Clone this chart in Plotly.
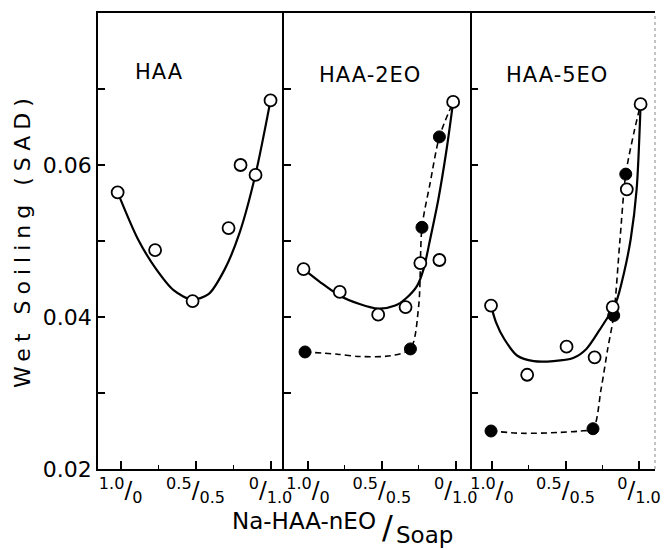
import plotly.graph_objects as go

# ---------------- data ----------------
# x = soap fraction in the Na-HAA-nEO / Soap mixture (0 -> 1.0/0, 1 -> 0/1.0)
haa_x = [-0.02, 0.23, 0.48, 0.72, 0.80, 0.90, 1.0]
haa_y = [0.0564, 0.0488, 0.0421, 0.0517, 0.0600, 0.0587, 0.0685]
haa_fit_x = [-0.02, 0.114, 0.230, 0.355, 0.476, 0.586, 0.695, 0.794, 0.899, 1.0]
haa_fit_y = [0.0564, 0.0503, 0.0465, 0.0435, 0.0423, 0.0430, 0.0463, 0.0511, 0.0587, 0.0685]

eo2_open_x = [-0.03, 0.215, 0.475, 0.66, 0.76, 0.889, 0.982]
eo2_open_y = [0.0463, 0.0433, 0.0403, 0.0413, 0.0471, 0.0475, 0.0683]
eo2_fill_x = [-0.02, 0.693, 0.771, 0.889]
eo2_fill_y = [0.0354, 0.0358, 0.0518, 0.0637]
eo2_solid_x = [-0.03, 0.082, 0.215, 0.349, 0.475, 0.59, 0.66, 0.738, 0.782, 0.827, 0.882, 0.938, 0.982]
eo2_solid_y = [0.0463, 0.0446, 0.0428, 0.0417, 0.0411, 0.0415, 0.0424, 0.0441, 0.0463, 0.0503, 0.0555, 0.0621, 0.0683]
eo2_dash_x = [-0.02, 0.2, 0.35, 0.56, 0.693, 0.749, 0.771, 0.827, 0.889, 0.982]
eo2_dash_y = [0.0354, 0.0351, 0.0348, 0.0349, 0.0358, 0.0415, 0.0518, 0.0577, 0.0637, 0.0683]

eo5_open_x = [-0.007, 0.239, 0.507, 0.698, 0.821, 0.917, 1.011]
eo5_open_y = [0.0415, 0.0324, 0.0361, 0.0347, 0.0413, 0.0568, 0.0680]
eo5_fill_x = [-0.007, 0.687, 0.828, 0.910]
eo5_fill_y = [0.0250, 0.0253, 0.0402, 0.0588]
eo5_solid_x = [-0.007, 0.027, 0.083, 0.172, 0.284, 0.418, 0.552, 0.642, 0.732, 0.843, 0.899, 0.944, 0.984, 1.011]
eo5_solid_y = [0.0415, 0.0393, 0.0371, 0.0349, 0.0342, 0.0342, 0.0346, 0.0358, 0.0383, 0.0419, 0.0459, 0.0503, 0.0568, 0.0680]
eo5_dash_x = [-0.007, 0.2, 0.45, 0.6, 0.687, 0.742, 0.787, 0.828, 0.870, 0.910, 0.966, 1.011]
eo5_dash_y = [0.0250, 0.0247, 0.0248, 0.0250, 0.0253, 0.0305, 0.0358, 0.0402, 0.0500, 0.0588, 0.0643, 0.0680]

panel_names = ["HAA", "HAA-2EO", "HAA-5EO"]
x_major_vals = [0, 0.5, 1.0]
x_major_text = ["<sup>1.0</sup>/<sub>0</sub>", "<sup>0.5</sup>/<sub>0.5</sub>", "<sup>0</sup>/<sub>1.0</sub>"]
x_minor_vals = [0.25, 0.75]
y_tick_vals = [0.02, 0.03, 0.04, 0.05, 0.06, 0.07]
y_tick_text = ["0.02", "", "0.04", "", "0.06", ""]

# ---------------- figure ----------------
FONT = "DejaVu Sans"
fig = go.Figure()

def add_panel(k, open_x, open_y, solid_x, solid_y, fill_x=None, fill_y=None, dash_x=None, dash_y=None):
    xa = "x" if k == 1 else f"x{k}"
    ya = "y" if k == 1 else f"y{k}"
    if dash_x is not None:
        fig.add_trace(go.Scatter(x=dash_x, y=dash_y, mode="lines", xaxis=xa, yaxis=ya,
                                 line=dict(color="black", width=1.6, dash="6px,4px", shape="spline", smoothing=0.8),
                                 showlegend=False, hoverinfo="skip", cliponaxis=False))
    fig.add_trace(go.Scatter(x=solid_x, y=solid_y, mode="lines", xaxis=xa, yaxis=ya,
                             line=dict(color="black", width=2.2, shape="spline", smoothing=0.8),
                             showlegend=False, hoverinfo="skip", cliponaxis=False))
    if fill_x is not None:
        fig.add_trace(go.Scatter(x=fill_x, y=fill_y, mode="markers", xaxis=xa, yaxis=ya,
                                 marker=dict(symbol="circle", size=12, color="black",
                                             line=dict(color="black", width=1)),
                                 showlegend=False, cliponaxis=False))
    fig.add_trace(go.Scatter(x=open_x, y=open_y, mode="markers", xaxis=xa, yaxis=ya,
                             marker=dict(symbol="circle", size=12, color="white",
                                         line=dict(color="black", width=1.8)),
                             showlegend=False, cliponaxis=False))

add_panel(1, haa_x, haa_y, haa_fit_x, haa_fit_y)
add_panel(2, eo2_open_x, eo2_open_y, eo2_solid_x, eo2_solid_y, eo2_fill_x, eo2_fill_y, eo2_dash_x, eo2_dash_y)
add_panel(3, eo5_open_x, eo5_open_y, eo5_solid_x, eo5_solid_y, eo5_fill_x, eo5_fill_y, eo5_dash_x, eo5_dash_y)

W, H = 665, 550
L, R, T, B = 98, 2, 13, 81
pw, ph = W - L - R, H - T - B
def px_x(p):
    return (p - L) / pw
def px_y(p):
    return (H - B - p) / ph

domains = [[0, px_x(287)], [px_x(287), px_x(477)], [px_x(477), 1.0]]
xranges = [[-0.151, 1.092], [-0.16, 1.107], [-0.139, 1.109]]

layout = dict(
    width=W, height=H,
    margin=dict(l=L, r=R, t=T, b=B, pad=0),
    paper_bgcolor="white", plot_bgcolor="white",
    font=dict(family=FONT, color="black"),
)
for i in range(3):
    k = i + 1
    xname = "xaxis" if k == 1 else f"xaxis{k}"
    yname = "yaxis" if k == 1 else f"yaxis{k}"
    layout[xname] = dict(
        domain=domains[i], range=xranges[i], anchor="y" if k == 1 else f"y{k}",
        showgrid=False, zeroline=False, showline=True, linecolor="black", linewidth=1.6,
        mirror=True, ticks="inside", ticklen=8, tickwidth=1.5, tickcolor="black",
        tickvals=x_major_vals, ticktext=x_major_text,
        tickfont=dict(family=FONT, size=23, color="black"),
        minor=dict(tickvals=x_minor_vals, ticks="inside", ticklen=4, tickwidth=1.3, tickcolor="black"),
        fixedrange=True,
    )
    layout[yname] = dict(
        domain=[0, 1], range=[0.02, 0.08], anchor="x" if k == 1 else f"x{k}",
        showgrid=False, zeroline=False, showline=True, linecolor="black", linewidth=1.5,
        mirror=False, ticks="inside", ticklen=7, tickwidth=1.5, tickcolor="black",
        tickvals=y_tick_vals, ticktext=y_tick_text if k == 1 else [""] * len(y_tick_vals),
        showticklabels=(k == 1),
        tickfont=dict(family=FONT, size=22, color="black"),
        fixedrange=True,
    )
fig.update_layout(**layout)

# faint dotted right border of the last panel
fig.add_shape(type="line", xref="paper", yref="paper", x0=1, x1=1, y0=0, y1=1,
              line=dict(color="#888888", width=1, dash="dot"))

# panel labels
label_px = [(133, 72), (320, 75), (510, 75)]
for name, (lx, ly) in zip(panel_names, label_px):
    fig.add_annotation(text=f'<span style="letter-spacing:1px">{name}</span>', xref="paper", yref="paper",
                       x=px_x(lx), y=px_y(ly), xanchor="left", yanchor="middle", showarrow=False,
                       font=dict(family=FONT, size=21, color="black"))

# y axis title
fig.add_annotation(text='<span style="letter-spacing:6px">Wet Soiling (SAD)</span>', xref="paper", yref="paper",
                   x=px_x(21), y=px_y(240), xanchor="center", yanchor="middle", textangle=-90,
                   showarrow=False, font=dict(family=FONT, size=22, color="black"))

# x axis title: Na-HAA-nEO / Soap
fig.add_annotation(text="Na-HAA-nEO", xref="paper", yref="paper",
                   x=px_x(233), y=px_y(521), xanchor="left", yanchor="middle",
                   showarrow=False, font=dict(family=FONT, size=23, color="black"), borderpad=0)
fig.add_annotation(text="/", xref="paper", yref="paper",
                   x=px_x(392), y=px_y(527), xanchor="center", yanchor="middle",
                   showarrow=False, font=dict(family=FONT, size=32, color="black"), borderpad=0)
fig.add_annotation(text="Soap", xref="paper", yref="paper",
                   x=px_x(399), y=px_y(535), xanchor="left", yanchor="middle",
                   showarrow=False, font=dict(family=FONT, size=23, color="black"), borderpad=0)

fig.write_html("out.html", config={"displayModeBar": False},
               post_script="document.body.style.margin='0';document.body.style.overflow='hidden';")
